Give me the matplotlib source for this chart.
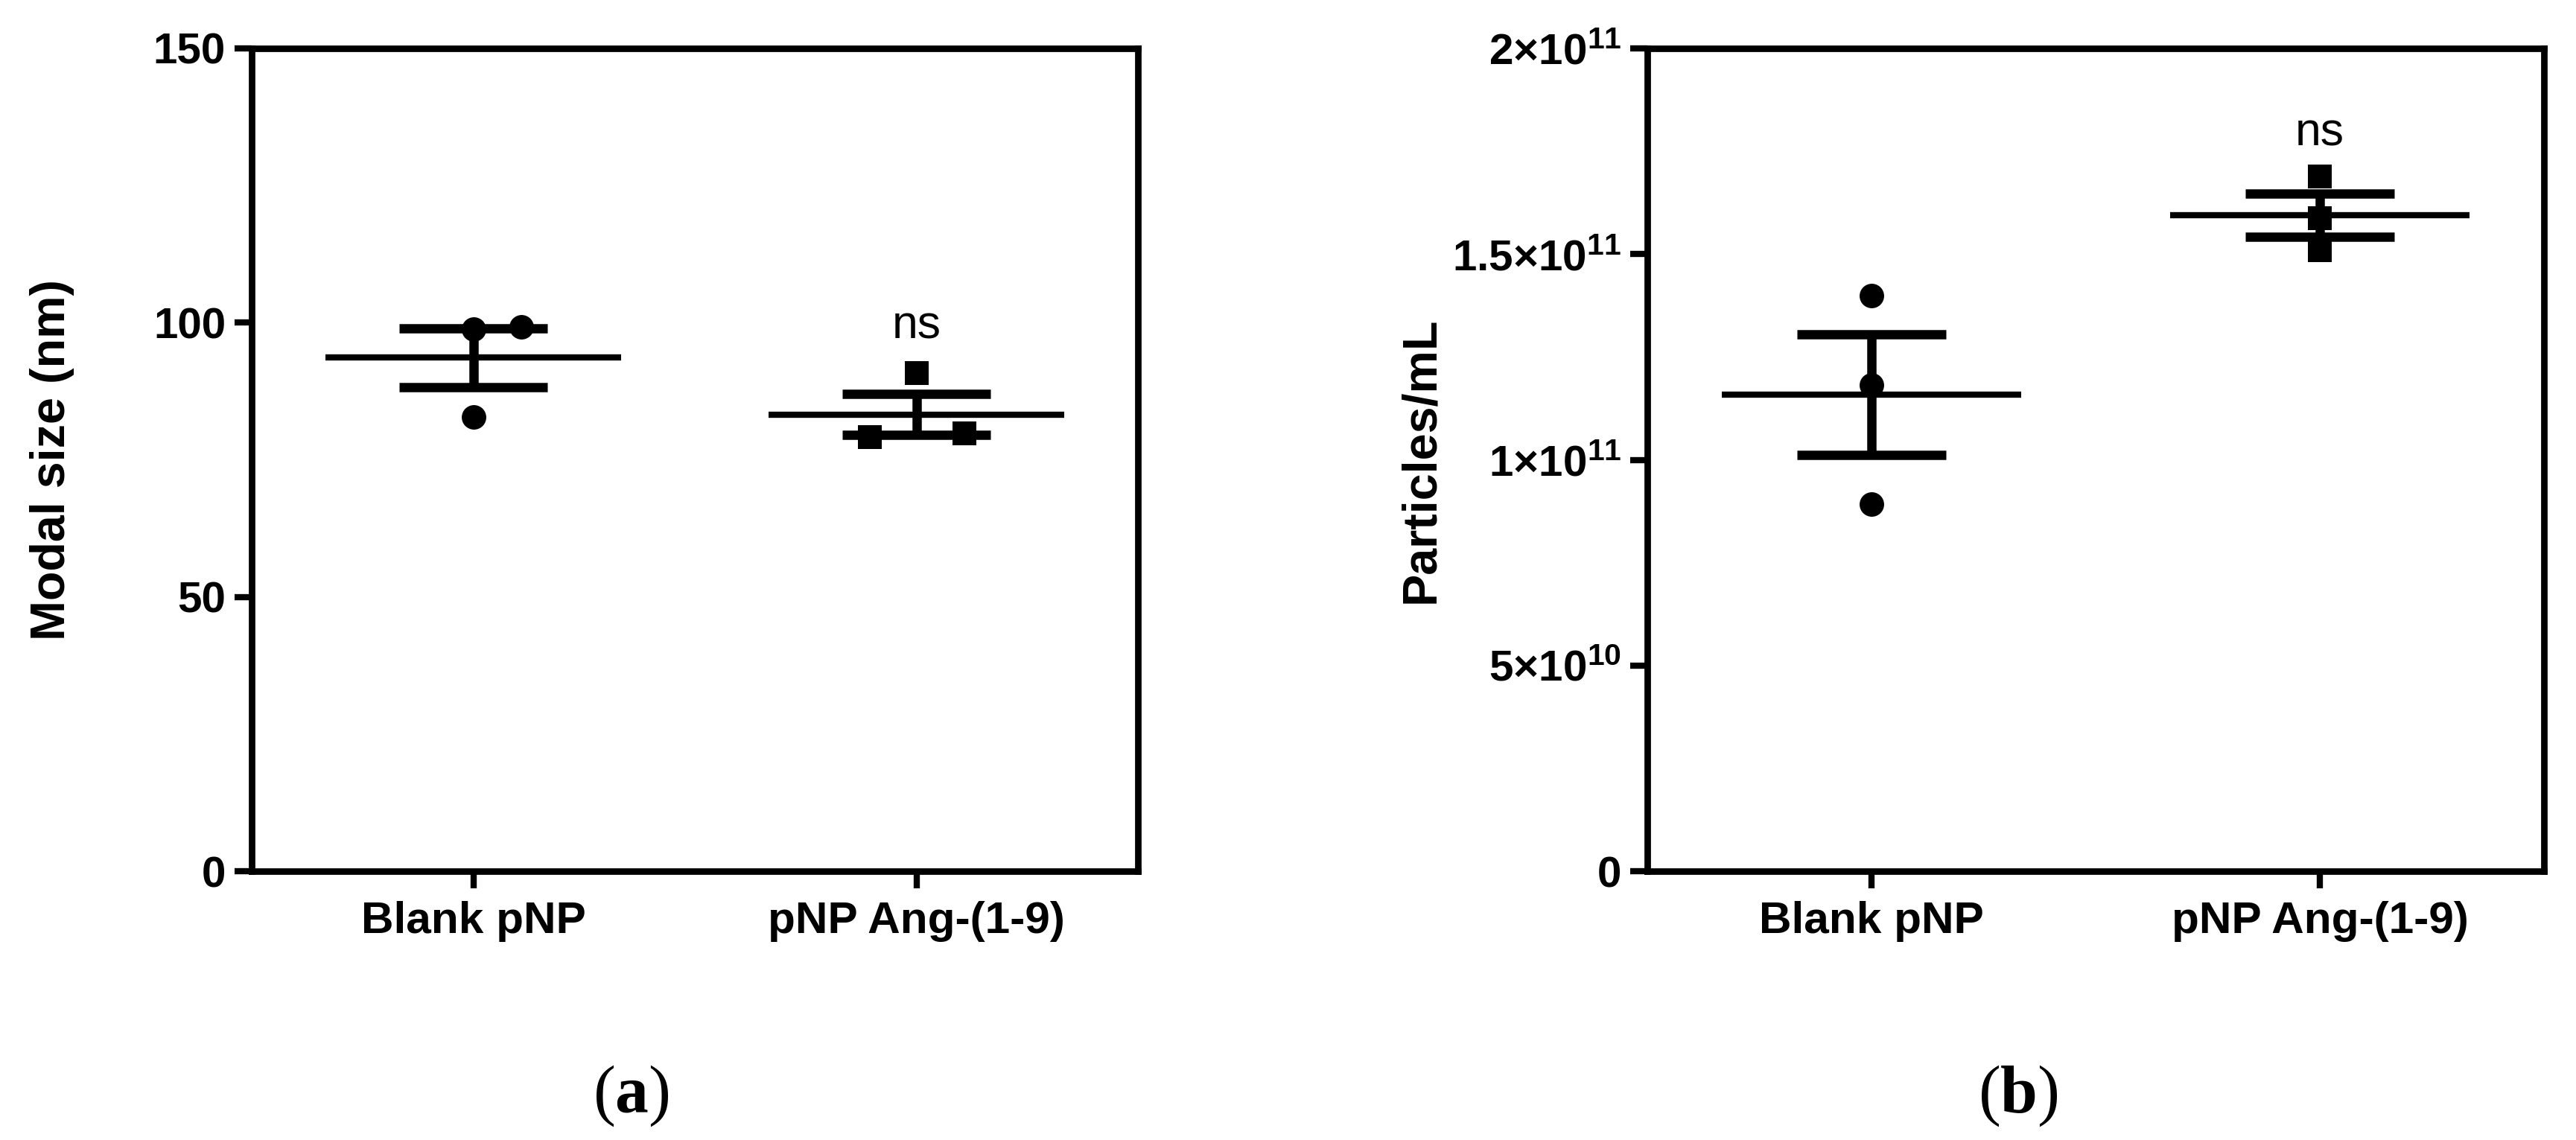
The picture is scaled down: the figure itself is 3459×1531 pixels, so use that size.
import numpy as np
import matplotlib
matplotlib.use("Agg")
import matplotlib.pyplot as plt

# ---------------- data ----------------
categories = ["Blank pNP", "pNP Ang-(1-9)"]

modal_blank = [98.8, 99.2, 82.8]
modal_ang = [90.8, 79.2, 79.8]

particles_blank = [1.40e11, 1.182e11, 0.892e11]
particles_ang = [1.688e11, 1.587e11, 1.509e11]

modal_ticks = [0, 50, 100, 150]
modal_ticklabels = ["0", "50", "100", "150"]
particle_ticks = [0, 5e10, 1e11, 1.5e11, 2e11]
particle_ticklabels = ["0", "5×10$^{10}$", "1×10$^{11}$", "1.5×10$^{11}$", "2×10$^{11}$"]

ns_modal = 97.1          # y of the "ns" annotation (panel a)
ns_particles = 1.763e11  # y of the "ns" annotation (panel b)

# ---------------- style ----------------
plt.rcParams["font.family"] = ["Liberation Sans", "DejaVu Sans"]
plt.rcParams["mathtext.fontset"] = "custom"
plt.rcParams["mathtext.default"] = "regular"
plt.rcParams["mathtext.bf"] = "Liberation Serif:bold"
plt.rcParams["mathtext.rm"] = "Liberation Serif"

W, H, DPI = 3459, 1531, 300
fig = plt.figure(figsize=(W / DPI, H / DPI), dpi=DPI)

axA = fig.add_axes([338 / W, (H - 1170) / H, 1190 / W, 1105 / H])
axB = fig.add_axes([2212 / W, (H - 1170) / H, 1204 / W, 1105 / H])

SPINE_LW = 2.1
MS = 7.9


def draw_group(ax, x, vals, marker, offsets):
    vals = np.asarray(vals, dtype=float)
    m = vals.mean()
    sem = vals.std(ddof=1) / np.sqrt(len(vals))
    ax.plot(x + np.asarray(offsets), vals, linestyle="none", marker=marker,
            ms=MS, color="black", mew=0, zorder=3, clip_on=False)
    ax.hlines(m, x - 1 / 3, x + 1 / 3, color="black", lw=2.0, zorder=4)
    ax.hlines([m - sem, m + sem], x - 1 / 6, x + 1 / 6, color="black", lw=3.0, zorder=4)
    ax.vlines(x, m - sem, m + sem, color="black", lw=3.0, zorder=4)


def style_axes(ax, ticks, ticklabels, ymax, ylabel, label_x):
    for s in ax.spines.values():
        s.set_linewidth(SPINE_LW)
        s.set_color("black")
    ax.set_xlim(-0.5, 1.5)
    ax.set_ylim(0, ymax)
    ax.set_xticks([0, 1])
    ax.set_xticklabels(categories, fontsize=14.5, fontweight="bold")
    ax.set_yticks(ticks)
    ax.set_yticklabels(ticklabels, fontsize=14, fontweight="bold")
    ax.tick_params(axis="both", direction="out", length=5.5, width=2.0, color="black")
    ax.tick_params(axis="y", pad=2.9)
    ax.tick_params(axis="x", pad=4.0)
    ax.set_ylabel(ylabel, fontsize=15.5, fontweight="bold", va="center")
    ax.yaxis.set_label_coords(label_x, 0.5)


# Panel a
draw_group(axA, 0, modal_blank, "o", [0.0, 0.108, 0.0])
draw_group(axA, 1, modal_ang, "s", [0.0, -0.105, 0.108])
style_axes(axA, modal_ticks, modal_ticklabels, 150, "Modal size (nm)", -0.2252)
axA.text(1, ns_modal, "ns", ha="center", va="baseline", fontsize=15)

# Panel b
draw_group(axB, 0, particles_blank, "o", [0.0, 0.0, 0.0])
draw_group(axB, 1, particles_ang, "s", [0.0, 0.0, 0.0])
style_axes(axB, particle_ticks, particle_ticklabels, 2e11, "Particles/mL", -0.2525)
axB.text(1, ns_particles, "ns", ha="center", va="baseline", fontsize=15)

# Captions
fig.text(847 / W, (H - 1472) / H, r"($\mathbf{a}$)", family="Liberation Serif",
         fontsize=21.5, ha="center", va="center")
fig.text(2710 / W, (H - 1472) / H, r"($\mathbf{b}$)", family="Liberation Serif",
         fontsize=21.5, ha="center", va="center")

fig.savefig("out.png", dpi=DPI, facecolor="white")
